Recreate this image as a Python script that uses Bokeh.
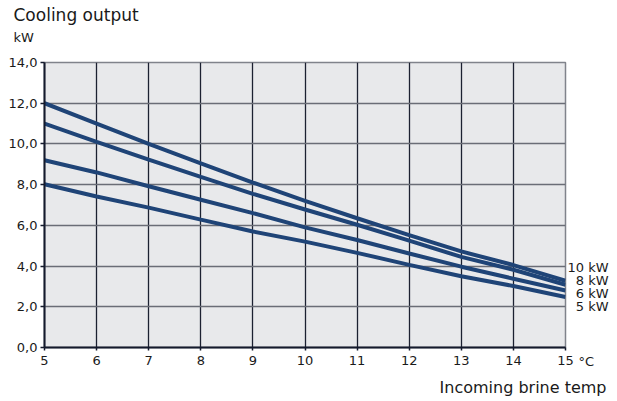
from bokeh.plotting import figure
from bokeh.models import Label, FixedTicker, Range1d, LinearAxis
from bokeh.embed import file_html
from bokeh.resources import INLINE

# ---- data ----
brine_temp = [5, 6, 7, 8, 9, 10, 11, 12, 13, 14, 15]
out_10kw = [12.0, 11.0, 10.0, 9.05, 8.1, 7.2, 6.35, 5.52, 4.72, 4.05, 3.28]
out_8kw = [11.0, 10.1, 9.23, 8.38, 7.55, 6.78, 6.03, 5.25, 4.45, 3.82, 3.08]
out_6kw = [9.2, 8.6, 7.92, 7.26, 6.6, 5.9, 5.28, 4.62, 3.97, 3.38, 2.8]
out_5kw = [8.02, 7.42, 6.87, 6.28, 5.7, 5.2, 4.65, 4.06, 3.5, 3.02, 2.48]
series_names = ["10 kW", "8 kW", "6 kW", "5 kW"]
x_ticks = [5, 6, 7, 8, 9, 10, 11, 12, 13, 14, 15]
y_ticks = [0, 2, 4, 6, 8, 10, 12, 14]
y_tick_labels = ["0,0", "2,0", "4,0", "6,0", "8,0", "10,0", "12,0", "14,0"]

# ---- layout / style ----
FONT = "DejaVu Sans"
TXT = "#1a1a1a"
LINE = "#1f4477"
series_label_pos = [3.92, 3.29, 2.67, 2.01]   # where the series names sit on the right
FIG_SPACE = "\u2007"

p = figure(width=617, height=401, x_range=Range1d(5, 15), y_range=Range1d(0, 14),
           output_backend="svg", toolbar_location=None,
           min_border_left=44, min_border_right=52, min_border_top=62, min_border_bottom=54)

p.background_fill_color = "#e8e9eb"
p.border_fill_color = "white"
p.outline_line_color = "#80838b"
p.outline_line_width = 1.5

p.xaxis.ticker = FixedTicker(ticks=x_ticks)
p.yaxis.ticker = FixedTicker(ticks=y_ticks)
p.yaxis.major_label_overrides = {t: l for t, l in zip(y_ticks, y_tick_labels)}
p.xaxis.major_label_overrides = {t: str(t) for t in x_ticks}

for ax in (p.xaxis[0], p.yaxis[0]):
    ax.axis_line_color = "#141a2c"
    ax.axis_line_width = 2
    ax.major_tick_line_color = "#141a2c"
    ax.major_tick_line_width = 1.5
    ax.minor_tick_line_color = None
    ax.major_tick_in = 0
    ax.major_label_text_font = FONT
    ax.major_label_text_font_size = "13px"
    ax.major_label_text_color = TXT
p.xaxis.major_tick_out = 3
p.xaxis.major_label_standoff = 5
p.yaxis.major_tick_out = 4
p.yaxis.major_label_standoff = 3

p.xgrid.ticker = FixedTicker(ticks=x_ticks)
p.ygrid.ticker = FixedTicker(ticks=y_ticks)
p.xgrid.grid_line_color = "#1c2131"
p.xgrid.grid_line_width = 1.3
p.ygrid.grid_line_color = "#6a6d76"
p.ygrid.grid_line_width = 1.6

for vals in (out_10kw, out_8kw, out_6kw, out_5kw):
    p.line(brine_temp, vals, line_color=LINE, line_width=4)

# series names on a label-only right axis
name_axis = LinearAxis(ticker=FixedTicker(ticks=series_label_pos),
                       major_label_overrides={pos: (name if len(name) > 4 else FIG_SPACE + name)
                                              for pos, name in zip(series_label_pos, series_names)})
name_axis.axis_line_color = None
name_axis.major_tick_line_color = None
name_axis.minor_tick_line_color = None
name_axis.major_tick_in = 0
name_axis.major_tick_out = 0
name_axis.major_label_standoff = 2
name_axis.major_label_text_font = FONT
name_axis.major_label_text_font_size = "13px"
name_axis.major_label_text_color = TXT
p.add_layout(name_axis, "right")


def lab(x, y, dx, dy, text, size, align="left"):
    return Label(x=x, y=y, x_offset=dx, y_offset=dy, text=text,
                 text_align=align, text_baseline="alphabetic",
                 text_font=FONT, text_font_size=size, text_color=TXT)


p.add_layout(lab(5, 14, -31, 47.5, "Cooling output", "17px"), "above")
p.add_layout(lab(5, 14, -31, 25.5, "kW", "13px"), "above")
p.add_layout(lab(15, 0, 13, -14, "°C", "13px"), "above")
p.add_layout(lab(15, 0, 41, -39.5, "Incoming brine temp", "16px", "right"), "below")

open("out.html", "w").write(file_html(p, INLINE))
